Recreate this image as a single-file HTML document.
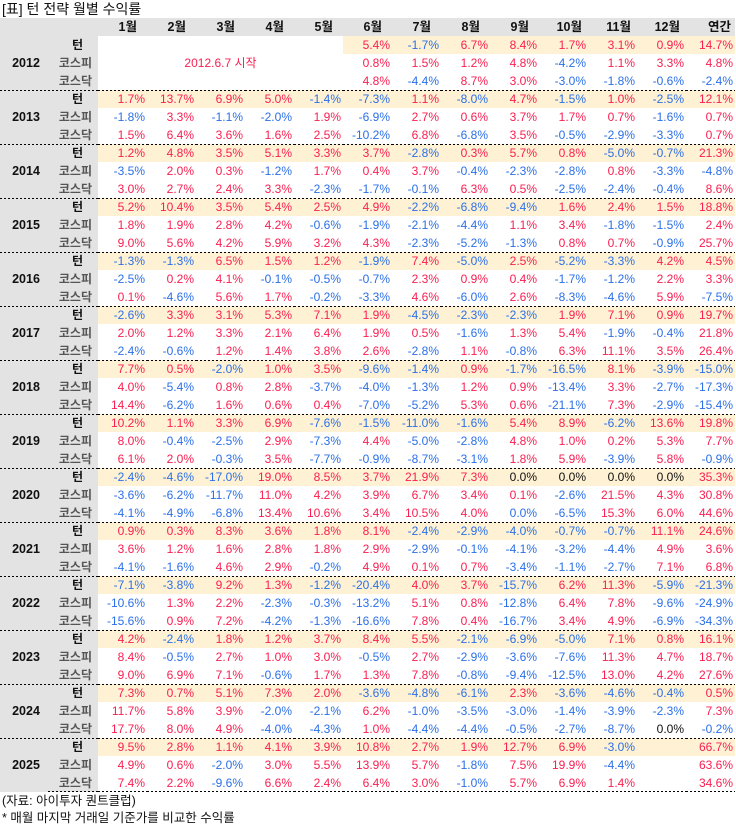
<!DOCTYPE html>
<html><head><meta charset="utf-8"><style>
body{margin:0;background:#fff;width:736px;height:829px;overflow:hidden;font-family:"Liberation Sans","Noto Sans CJK KR",sans-serif;}
.title{position:absolute;left:2px;top:1px;font-size:14px;color:#111;line-height:16px;}
table{position:absolute;left:0;top:18px;border-collapse:separate;border-spacing:0;table-layout:fixed;width:735px;}
td,th{height:18px;padding:0;line-height:18px;font-size:12px;white-space:nowrap;}
col.y{width:48px}col.l{width:50px}col.m{width:49px}
thead th{background:#e3e3e3;font-weight:bold;color:#111;text-align:right;padding-right:10px;font-size:12.5px}
thead th.h0{padding:0}
th.y{background:#e3e3e3;font-weight:bold;font-size:12.5px;color:#111;text-align:center;padding-left:4px}
th.l{background:#e3e3e3;font-weight:bold;color:#555;text-align:right;padding-right:6px}
th.l1{background:#e3e3e3;font-weight:bold;color:#111;text-align:right;padding-right:15px}
td{text-align:right;padding-right:2px;color:#fa1e50}
td.b{color:#2b6fe8}td.k{color:#111}
tr.t td{background-color:#fff2d4}
tr.t td.w{background-color:#fff}
tr.s td,tr.s th{background-image:repeating-linear-gradient(90deg,#000 0 2px,transparent 2px 4px);background-size:100% 1px;background-repeat:no-repeat;background-position:top}
tr.e td,tr.e th{background-image:repeating-linear-gradient(90deg,#000 0 2px,transparent 2px 4px);background-size:100% 1px;background-repeat:no-repeat;background-position:bottom}
td.note{text-align:center;color:#fa1e50;padding:0}
.f{position:absolute;left:2px;font-size:12.5px;color:#111;line-height:16px}
</style></head><body>
<div class="title">[표] 턴 전략 월별 수익률</div>
<table>
<colgroup><col class="y"><col class="l"><col class="m"><col class="m"><col class="m"><col class="m"><col class="m"><col class="m"><col class="m"><col class="m"><col class="m"><col class="m"><col class="m"><col class="m"><col class="m"></colgroup>
<thead><tr><th class="h0"></th><th class="h0"></th><th>1월</th><th>2월</th><th>3월</th><th>4월</th><th>5월</th><th>6월</th><th>7월</th><th>8월</th><th>9월</th><th style="padding-right:6px">10월</th><th style="padding-right:6px">11월</th><th style="padding-right:6px">12월</th><th style="padding-right:4px">연간</th></tr></thead>
<tbody>
<tr class="t"><th rowspan="3" class="y">2012</th><th class="l1">턴</th><td class="w"></td><td class="w"></td><td class="w"></td><td class="w"></td><td class="w"></td><td>5.4%</td><td class="b">-1.7%</td><td>6.7%</td><td>8.4%</td><td>1.7%</td><td>3.1%</td><td>0.9%</td><td>14.7%</td></tr>
<tr><th class="l">코스피</th><td colspan="5" class="note">2012.6.7 시작</td><td>0.8%</td><td>1.5%</td><td>1.2%</td><td>4.8%</td><td class="b">-4.2%</td><td>1.1%</td><td>3.3%</td><td>4.8%</td></tr>
<tr><th class="l">코스닥</th><td></td><td></td><td></td><td></td><td></td><td>4.8%</td><td class="b">-4.4%</td><td>8.7%</td><td>3.0%</td><td class="b">-3.0%</td><td class="b">-1.8%</td><td class="b">-0.6%</td><td class="b">-2.4%</td></tr>

<tr class="t s"><th rowspan="3" class="y">2013</th><th class="l1">턴</th><td>1.7%</td><td>13.7%</td><td>6.9%</td><td>5.0%</td><td class="b">-1.4%</td><td class="b">-7.3%</td><td>1.1%</td><td class="b">-8.0%</td><td>4.7%</td><td class="b">-1.5%</td><td>1.0%</td><td class="b">-2.5%</td><td>12.1%</td></tr>
<tr><th class="l">코스피</th><td class="b">-1.8%</td><td>3.3%</td><td class="b">-1.1%</td><td class="b">-2.0%</td><td>1.9%</td><td class="b">-6.9%</td><td>2.7%</td><td>0.6%</td><td>3.7%</td><td>1.7%</td><td>0.7%</td><td class="b">-1.6%</td><td>0.7%</td></tr>
<tr><th class="l">코스닥</th><td>1.5%</td><td>6.4%</td><td>3.6%</td><td>1.6%</td><td>2.5%</td><td class="b">-10.2%</td><td>6.8%</td><td class="b">-6.8%</td><td>3.5%</td><td class="b">-0.5%</td><td class="b">-2.9%</td><td class="b">-3.3%</td><td>0.7%</td></tr>

<tr class="t s"><th rowspan="3" class="y">2014</th><th class="l1">턴</th><td>1.2%</td><td>4.8%</td><td>3.5%</td><td>5.1%</td><td>3.3%</td><td>3.7%</td><td class="b">-2.8%</td><td>0.3%</td><td>5.7%</td><td>0.8%</td><td class="b">-5.0%</td><td class="b">-0.7%</td><td>21.3%</td></tr>
<tr><th class="l">코스피</th><td class="b">-3.5%</td><td>2.0%</td><td>0.3%</td><td class="b">-1.2%</td><td>1.7%</td><td>0.4%</td><td>3.7%</td><td class="b">-0.4%</td><td class="b">-2.3%</td><td class="b">-2.8%</td><td>0.8%</td><td class="b">-3.3%</td><td class="b">-4.8%</td></tr>
<tr><th class="l">코스닥</th><td>3.0%</td><td>2.7%</td><td>2.4%</td><td>3.3%</td><td class="b">-2.3%</td><td class="b">-1.7%</td><td class="b">-0.1%</td><td>6.3%</td><td>0.5%</td><td class="b">-2.5%</td><td class="b">-2.4%</td><td class="b">-0.4%</td><td>8.6%</td></tr>

<tr class="t s"><th rowspan="3" class="y">2015</th><th class="l1">턴</th><td>5.2%</td><td>10.4%</td><td>3.5%</td><td>5.4%</td><td>2.5%</td><td>4.9%</td><td class="b">-2.2%</td><td class="b">-6.8%</td><td class="b">-9.4%</td><td>1.6%</td><td>2.4%</td><td>1.5%</td><td>18.8%</td></tr>
<tr><th class="l">코스피</th><td>1.8%</td><td>1.9%</td><td>2.8%</td><td>4.2%</td><td class="b">-0.6%</td><td class="b">-1.9%</td><td class="b">-2.1%</td><td class="b">-4.4%</td><td>1.1%</td><td>3.4%</td><td class="b">-1.8%</td><td class="b">-1.5%</td><td>2.4%</td></tr>
<tr><th class="l">코스닥</th><td>9.0%</td><td>5.6%</td><td>4.2%</td><td>5.9%</td><td>3.2%</td><td>4.3%</td><td class="b">-2.3%</td><td class="b">-5.2%</td><td class="b">-1.3%</td><td>0.8%</td><td>0.7%</td><td class="b">-0.9%</td><td>25.7%</td></tr>

<tr class="t s"><th rowspan="3" class="y">2016</th><th class="l1">턴</th><td class="b">-1.3%</td><td class="b">-1.3%</td><td>6.5%</td><td>1.5%</td><td>1.2%</td><td class="b">-1.9%</td><td>7.4%</td><td class="b">-5.0%</td><td>2.5%</td><td class="b">-5.2%</td><td class="b">-3.3%</td><td>4.2%</td><td>4.5%</td></tr>
<tr><th class="l">코스피</th><td class="b">-2.5%</td><td>0.2%</td><td>4.1%</td><td class="b">-0.1%</td><td class="b">-0.5%</td><td class="b">-0.7%</td><td>2.3%</td><td>0.9%</td><td>0.4%</td><td class="b">-1.7%</td><td class="b">-1.2%</td><td>2.2%</td><td>3.3%</td></tr>
<tr><th class="l">코스닥</th><td>0.1%</td><td class="b">-4.6%</td><td>5.6%</td><td>1.7%</td><td class="b">-0.2%</td><td class="b">-3.3%</td><td>4.6%</td><td class="b">-6.0%</td><td>2.6%</td><td class="b">-8.3%</td><td class="b">-4.6%</td><td>5.9%</td><td class="b">-7.5%</td></tr>

<tr class="t s"><th rowspan="3" class="y">2017</th><th class="l1">턴</th><td class="b">-2.6%</td><td>3.3%</td><td>3.1%</td><td>5.3%</td><td>7.1%</td><td>1.9%</td><td class="b">-4.5%</td><td class="b">-2.3%</td><td class="b">-2.3%</td><td>1.9%</td><td>7.1%</td><td>0.9%</td><td>19.7%</td></tr>
<tr><th class="l">코스피</th><td>2.0%</td><td>1.2%</td><td>3.3%</td><td>2.1%</td><td>6.4%</td><td>1.9%</td><td>0.5%</td><td class="b">-1.6%</td><td>1.3%</td><td>5.4%</td><td class="b">-1.9%</td><td class="b">-0.4%</td><td>21.8%</td></tr>
<tr><th class="l">코스닥</th><td class="b">-2.4%</td><td class="b">-0.6%</td><td>1.2%</td><td>1.4%</td><td>3.8%</td><td>2.6%</td><td class="b">-2.8%</td><td>1.1%</td><td class="b">-0.8%</td><td>6.3%</td><td>11.1%</td><td>3.5%</td><td>26.4%</td></tr>

<tr class="t s"><th rowspan="3" class="y">2018</th><th class="l1">턴</th><td>7.7%</td><td>0.5%</td><td class="b">-2.0%</td><td>1.0%</td><td>3.5%</td><td class="b">-9.6%</td><td class="b">-1.4%</td><td>0.9%</td><td class="b">-1.7%</td><td class="b">-16.5%</td><td>8.1%</td><td class="b">-3.9%</td><td class="b">-15.0%</td></tr>
<tr><th class="l">코스피</th><td>4.0%</td><td class="b">-5.4%</td><td>0.8%</td><td>2.8%</td><td class="b">-3.7%</td><td class="b">-4.0%</td><td class="b">-1.3%</td><td>1.2%</td><td>0.9%</td><td class="b">-13.4%</td><td>3.3%</td><td class="b">-2.7%</td><td class="b">-17.3%</td></tr>
<tr><th class="l">코스닥</th><td>14.4%</td><td class="b">-6.2%</td><td>1.6%</td><td>0.6%</td><td>0.4%</td><td class="b">-7.0%</td><td class="b">-5.2%</td><td>5.3%</td><td>0.6%</td><td class="b">-21.1%</td><td>7.3%</td><td class="b">-2.9%</td><td class="b">-15.4%</td></tr>

<tr class="t s"><th rowspan="3" class="y">2019</th><th class="l1">턴</th><td>10.2%</td><td>1.1%</td><td>3.3%</td><td>6.9%</td><td class="b">-7.6%</td><td class="b">-1.5%</td><td class="b">-11.0%</td><td class="b">-1.6%</td><td>5.4%</td><td>8.9%</td><td class="b">-6.2%</td><td>13.6%</td><td>19.8%</td></tr>
<tr><th class="l">코스피</th><td>8.0%</td><td class="b">-0.4%</td><td class="b">-2.5%</td><td>2.9%</td><td class="b">-7.3%</td><td>4.4%</td><td class="b">-5.0%</td><td class="b">-2.8%</td><td>4.8%</td><td>1.0%</td><td>0.2%</td><td>5.3%</td><td>7.7%</td></tr>
<tr><th class="l">코스닥</th><td>6.1%</td><td>2.0%</td><td class="b">-0.3%</td><td>3.5%</td><td class="b">-7.7%</td><td class="b">-0.9%</td><td class="b">-8.7%</td><td class="b">-3.1%</td><td>1.8%</td><td>5.9%</td><td class="b">-3.9%</td><td>5.8%</td><td class="b">-0.9%</td></tr>

<tr class="t s"><th rowspan="3" class="y">2020</th><th class="l1">턴</th><td class="b">-2.4%</td><td class="b">-4.6%</td><td class="b">-17.0%</td><td>19.0%</td><td>8.5%</td><td>3.7%</td><td>21.9%</td><td>7.3%</td><td class="k">0.0%</td><td class="k">0.0%</td><td class="k">0.0%</td><td class="k">0.0%</td><td>35.3%</td></tr>
<tr><th class="l">코스피</th><td class="b">-3.6%</td><td class="b">-6.2%</td><td class="b">-11.7%</td><td>11.0%</td><td>4.2%</td><td>3.9%</td><td>6.7%</td><td>3.4%</td><td>0.1%</td><td class="b">-2.6%</td><td>21.5%</td><td>4.3%</td><td>30.8%</td></tr>
<tr><th class="l">코스닥</th><td class="b">-4.1%</td><td class="b">-4.9%</td><td class="b">-6.8%</td><td>13.4%</td><td>10.6%</td><td>3.4%</td><td>10.5%</td><td>4.0%</td><td class="b">0.0%</td><td class="b">-6.5%</td><td>15.3%</td><td>6.0%</td><td>44.6%</td></tr>

<tr class="t s"><th rowspan="3" class="y">2021</th><th class="l1">턴</th><td>0.9%</td><td>0.3%</td><td>8.3%</td><td>3.6%</td><td>1.8%</td><td>8.1%</td><td class="b">-2.4%</td><td class="b">-2.9%</td><td class="b">-4.0%</td><td class="b">-0.7%</td><td class="b">-0.7%</td><td>11.1%</td><td>24.6%</td></tr>
<tr><th class="l">코스피</th><td>3.6%</td><td>1.2%</td><td>1.6%</td><td>2.8%</td><td>1.8%</td><td>2.9%</td><td class="b">-2.9%</td><td class="b">-0.1%</td><td class="b">-4.1%</td><td class="b">-3.2%</td><td class="b">-4.4%</td><td>4.9%</td><td>3.6%</td></tr>
<tr><th class="l">코스닥</th><td class="b">-4.1%</td><td class="b">-1.6%</td><td>4.6%</td><td>2.9%</td><td class="b">-0.2%</td><td>4.9%</td><td>0.1%</td><td>0.7%</td><td class="b">-3.4%</td><td class="b">-1.1%</td><td class="b">-2.7%</td><td>7.1%</td><td>6.8%</td></tr>

<tr class="t s"><th rowspan="3" class="y">2022</th><th class="l1">턴</th><td class="b">-7.1%</td><td class="b">-3.8%</td><td>9.2%</td><td>1.3%</td><td class="b">-1.2%</td><td class="b">-20.4%</td><td>4.0%</td><td>3.7%</td><td class="b">-15.7%</td><td>6.2%</td><td>11.3%</td><td class="b">-5.9%</td><td class="b">-21.3%</td></tr>
<tr><th class="l">코스피</th><td class="b">-10.6%</td><td>1.3%</td><td>2.2%</td><td class="b">-2.3%</td><td class="b">-0.3%</td><td class="b">-13.2%</td><td>5.1%</td><td>0.8%</td><td class="b">-12.8%</td><td>6.4%</td><td>7.8%</td><td class="b">-9.6%</td><td class="b">-24.9%</td></tr>
<tr><th class="l">코스닥</th><td class="b">-15.6%</td><td>0.9%</td><td>7.2%</td><td class="b">-4.2%</td><td class="b">-1.3%</td><td class="b">-16.6%</td><td>7.8%</td><td>0.4%</td><td class="b">-16.7%</td><td>3.4%</td><td>4.9%</td><td class="b">-6.9%</td><td class="b">-34.3%</td></tr>

<tr class="t s"><th rowspan="3" class="y">2023</th><th class="l1">턴</th><td>4.2%</td><td class="b">-2.4%</td><td>1.8%</td><td>1.2%</td><td>3.7%</td><td>8.4%</td><td>5.5%</td><td class="b">-2.1%</td><td class="b">-6.9%</td><td class="b">-5.0%</td><td>7.1%</td><td>0.8%</td><td>16.1%</td></tr>
<tr><th class="l">코스피</th><td>8.4%</td><td class="b">-0.5%</td><td>2.7%</td><td>1.0%</td><td>3.0%</td><td class="b">-0.5%</td><td>2.7%</td><td class="b">-2.9%</td><td class="b">-3.6%</td><td class="b">-7.6%</td><td>11.3%</td><td>4.7%</td><td>18.7%</td></tr>
<tr><th class="l">코스닥</th><td>9.0%</td><td>6.9%</td><td>7.1%</td><td class="b">-0.6%</td><td>1.7%</td><td>1.3%</td><td>7.8%</td><td class="b">-0.8%</td><td class="b">-9.4%</td><td class="b">-12.5%</td><td>13.0%</td><td>4.2%</td><td>27.6%</td></tr>

<tr class="t s"><th rowspan="3" class="y">2024</th><th class="l1">턴</th><td>7.3%</td><td>0.7%</td><td>5.1%</td><td>7.3%</td><td>2.0%</td><td class="b">-3.6%</td><td class="b">-4.8%</td><td class="b">-6.1%</td><td>2.3%</td><td class="b">-3.6%</td><td class="b">-4.6%</td><td class="b">-0.4%</td><td>0.5%</td></tr>
<tr><th class="l">코스피</th><td>11.7%</td><td>5.8%</td><td>3.9%</td><td class="b">-2.0%</td><td class="b">-2.1%</td><td>6.2%</td><td class="b">-1.0%</td><td class="b">-3.5%</td><td class="b">-3.0%</td><td class="b">-1.4%</td><td class="b">-3.9%</td><td class="b">-2.3%</td><td>7.3%</td></tr>
<tr><th class="l">코스닥</th><td>17.7%</td><td>8.0%</td><td>4.9%</td><td class="b">-4.0%</td><td class="b">-4.3%</td><td>1.0%</td><td class="b">-4.4%</td><td class="b">-4.4%</td><td class="b">-0.5%</td><td class="b">-2.7%</td><td class="b">-8.7%</td><td class="k">0.0%</td><td class="b">-0.2%</td></tr>

<tr class="t s"><th rowspan="3" class="y">2025</th><th class="l1">턴</th><td>9.5%</td><td>2.8%</td><td>1.1%</td><td>4.1%</td><td>3.9%</td><td>10.8%</td><td>2.7%</td><td>1.9%</td><td>12.7%</td><td>6.9%</td><td class="b">-3.0%</td><td></td><td>66.7%</td></tr>
<tr><th class="l">코스피</th><td>4.9%</td><td>0.6%</td><td class="b">-2.0%</td><td>3.0%</td><td>5.5%</td><td>13.9%</td><td>5.7%</td><td class="b">-1.8%</td><td>7.5%</td><td>19.9%</td><td class="b">-4.4%</td><td></td><td>63.6%</td></tr>
<tr class="e"><th class="l">코스닥</th><td>7.4%</td><td>2.2%</td><td class="b">-9.6%</td><td>6.6%</td><td>2.4%</td><td>6.4%</td><td>3.0%</td><td class="b">-1.0%</td><td>5.7%</td><td>6.9%</td><td>1.4%</td><td></td><td>34.6%</td></tr>
</tbody></table>
<div class="f" style="top:793px">(자료: 아이투자 퀀트클럽)</div>
<div class="f" style="top:810px">* 매월 마지막 거래일 기준가를 비교한 수익률</div>
</body></html>
